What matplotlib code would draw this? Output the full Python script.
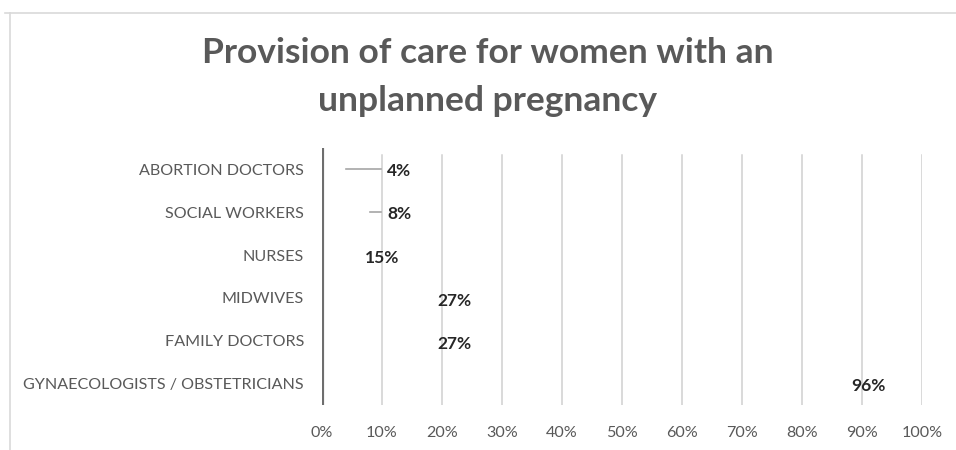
import matplotlib
matplotlib.use("Agg")
import matplotlib.pyplot as plt
from matplotlib.lines import Line2D

plt.rcParams['font.family'] = ['Lato', 'DejaVu Sans']

categorias = ['ABORTION DOCTORS', 'SOCIAL WORKERS', 'NURSES', 'MIDWIVES',
              'FAMILY DOCTORS', 'GYNAECOLOGISTS / OBSTETRICIANS']
valores = [4, 8, 15, 27, 27, 96]
ticks_x = [0, 10, 20, 30, 40, 50, 60, 70, 80, 90, 100]

gris_texto = '#595959'

fig = plt.figure(figsize=(9.56, 4.5), dpi=100)
ax = fig.add_axes([322 / 956, 1 - 405 / 450, 600 / 956, 257 / 450])

# marco del grafico (solo arriba y a la izquierda)
fig.add_artist(Line2D([5 / 956, 1], [1 - 13 / 450] * 2, color='#d9d9d9', lw=1.2,
                      transform=fig.transFigure))
fig.add_artist(Line2D([10 / 956] * 2, [1 - 13 / 450, 0], color='#d9d9d9', lw=1.2,
                      transform=fig.transFigure))

y = list(range(len(categorias)))
# barras sin relleno, solo se ven las etiquetas
ax.barh(y, valores, height=0.6, color='none', zorder=1)

for t in ticks_x[1:]:
    ax.axvline(t, ymin=0, ymax=250 / 257, color='#d0d0d0', lw=1.1, zorder=0)
ax.axvline(0, color='#6e6e6e', lw=3, zorder=3)

for yi, v in zip(y, valores):
    if v >= 10:
        ax.annotate(f'{v}%', (v, yi), xytext=(-9, -2), textcoords='offset points',
                    ha='right', va='center', fontsize=12.5, fontweight='bold',
                    color='#262626')
    else:
        # etiqueta fuera de la barra con linea guia
        ax.annotate(f'{v}%', (v, yi), xytext=(10.9, yi + 0.04), textcoords='data',
                    ha='left', va='center', fontsize=12.5, fontweight='bold',
                    color='#262626')
        ax.plot([v, 9.8], [yi, yi], color='#a6a6a6', lw=1.2, zorder=2)

ax.set_xlim(0, 100)
ax.set_ylim(len(categorias) - 0.5, -0.5)
ax.set_yticks(y)
ax.set_yticklabels(categorias, fontsize=11.6, color=gris_texto)
ax.set_xticks(ticks_x)
ax.set_xticklabels([f'{t}%' for t in ticks_x], fontsize=11.6, color=gris_texto)
ax.tick_params(length=0)
ax.tick_params(axis='y', pad=13)
ax.tick_params(axis='x', pad=15)
for s in ax.spines.values():
    s.set_visible(False)

fig.text(488 / 956, 1 - 53 / 450, 'Provision of care for women with an',
         ha='center', va='center', fontsize=25.5, fontweight='bold', color=gris_texto)
fig.text(488 / 956, 1 - 101 / 450, 'unplanned pregnancy',
         ha='center', va='center', fontsize=25.5, fontweight='bold', color=gris_texto)

fig.savefig('out.png', dpi=100, facecolor='white')
